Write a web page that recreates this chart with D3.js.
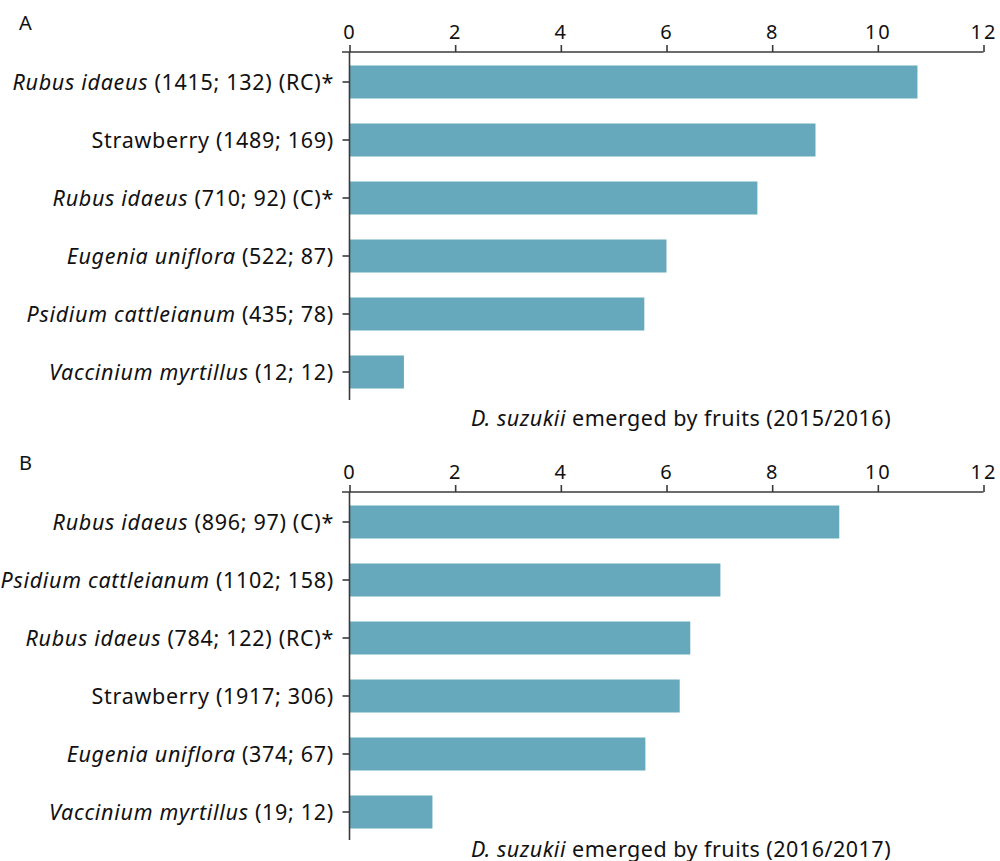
<!DOCTYPE html>
<html>
<head>
<meta charset="utf-8">
<script src="https://cdn.jsdelivr.net/npm/d3@7"></script>
<style>
  html, body { margin: 0; padding: 0; background: #fff; }
  svg { display: block; font-family: "Noto Sans", sans-serif; }
</style>
</head>
<body>
<svg id="chart" width="1000" height="861"></svg>
<script>
// Emergence of D. suzukii per fruit, two seasons.
// Each label: fruit (fruits sampled; flies emerged) plus treatment code.
const categoriesA = [
  "Rubus idaeus (1415; 132) (RC)*",
  "Strawberry (1489; 169)",
  "Rubus idaeus (710; 92) (C)*",
  "Eugenia uniflora (522; 87)",
  "Psidium cattleianum (435; 78)",
  "Vaccinium myrtillus (12; 12)"
];
const valuesA = [10.75, 8.82, 7.72, 6.0, 5.58, 1.03];

const categoriesB = [
  "Rubus idaeus (896; 97) (C)*",
  "Psidium cattleianum (1102; 158)",
  "Rubus idaeus (784; 122) (RC)*",
  "Strawberry (1917; 306)",
  "Eugenia uniflora (374; 67)",
  "Vaccinium myrtillus (19; 12)"
];
const valuesB = [9.27, 7.02, 6.45, 6.25, 5.6, 1.57];

const xTicks = [0, 2, 4, 6, 8, 10, 12];
const panelLabels = ["A", "B"];
const axisTitles = ["(2015/2016)", "(2016/2017)"];

// Scientific names that are set in italics
const italicNames = ["Rubus idaeus", "Eugenia uniflora", "Psidium cattleianum", "Vaccinium myrtillus"];

const svg = d3.select("#chart");
const barColor = "#66a9bc";
const inkColor = "#3a3a3a";
const labelSize = 21.5;

const x = d3.scaleLinear().domain([0, 12]).range([349.5, 983.5]);

function drawPanel(top, label, cats, vals, title, titleOffset) {
  const g = svg.append("g");

  const y = d3.scaleBand()
    .domain(cats)
    .range([top + 13.5, top + 336.5])
    .paddingInner(0.431)
    .paddingOuter(0);

  // panel letter
  g.append("text")
    .attr("x", 19).attr("y", top - 22)
    .attr("font-size", 20).attr("fill", "#111")
    .text(label);

  // bars
  g.selectAll("rect.bar")
    .data(cats.map((c, i) => ({ c, v: vals[i] })))
    .join("rect")
    .attr("class", "bar")
    .attr("x", x(0))
    .attr("y", d => y(d.c))
    .attr("width", d => x(d.v) - x(0))
    .attr("height", y.bandwidth())
    .attr("fill", barColor);

  // top value axis
  const xAxis = g.append("g")
    .attr("transform", `translate(0,${top})`)
    .call(d3.axisTop(x).tickValues(xTicks).tickSize(7).tickSizeOuter(0).tickPadding(6));
  xAxis.select(".domain").remove();
  xAxis.append("line")
    .attr("x1", 342).attr("x2", x(12))
    .attr("stroke", inkColor).attr("stroke-width", 1.6);
  xAxis.selectAll(".tick line").attr("stroke", inkColor).attr("stroke-width", 1.6);
  xAxis.selectAll(".tick text")
    .attr("font-size", 20).attr("fill", "#111")
    .attr("letter-spacing", 2)
    .attr("font-family", "Noto Sans, sans-serif");

  // left category axis
  const yAxis = g.append("g")
    .attr("transform", `translate(${x(0)},0)`)
    .call(d3.axisLeft(y).tickSize(7).tickSizeOuter(0).tickFormat(""));
  yAxis.select(".domain").remove();
  yAxis.append("line")
    .attr("y1", top).attr("y2", top + 348)
    .attr("stroke", inkColor).attr("stroke-width", 1.6);
  yAxis.selectAll(".tick line").attr("stroke", inkColor).attr("stroke-width", 1.6);

  // category labels with italic scientific names
  cats.forEach(c => {
    const t = g.append("text")
      .attr("x", 334)
      .attr("y", y(c) + y.bandwidth() / 2 + 8)
      .attr("text-anchor", "end")
      .attr("font-size", labelSize)
      .attr("letter-spacing", 0.7)
      .attr("fill", "#111");
    const name = italicNames.find(n => c.startsWith(n));
    if (name) {
      t.append("tspan").attr("font-style", "italic").text(name);
      t.append("tspan").text(c.slice(name.length));
    } else {
      t.text(c);
    }
  });

  // axis title
  const at = g.append("text")
    .attr("x", 681).attr("y", top + titleOffset)
    .attr("text-anchor", "middle")
    .attr("font-size", labelSize)
    .attr("letter-spacing", 0.5)
    .attr("fill", "#111");
  at.append("tspan").attr("font-style", "italic").text("D. suzukii");
  at.append("tspan").text(" emerged by fruits " + title);
}

drawPanel(52, panelLabels[0], categoriesA, valuesA, axisTitles[0], 373.5);
drawPanel(492, panelLabels[1], categoriesB, valuesB, axisTitles[1], 364.5);
</script>
</body>
</html>
